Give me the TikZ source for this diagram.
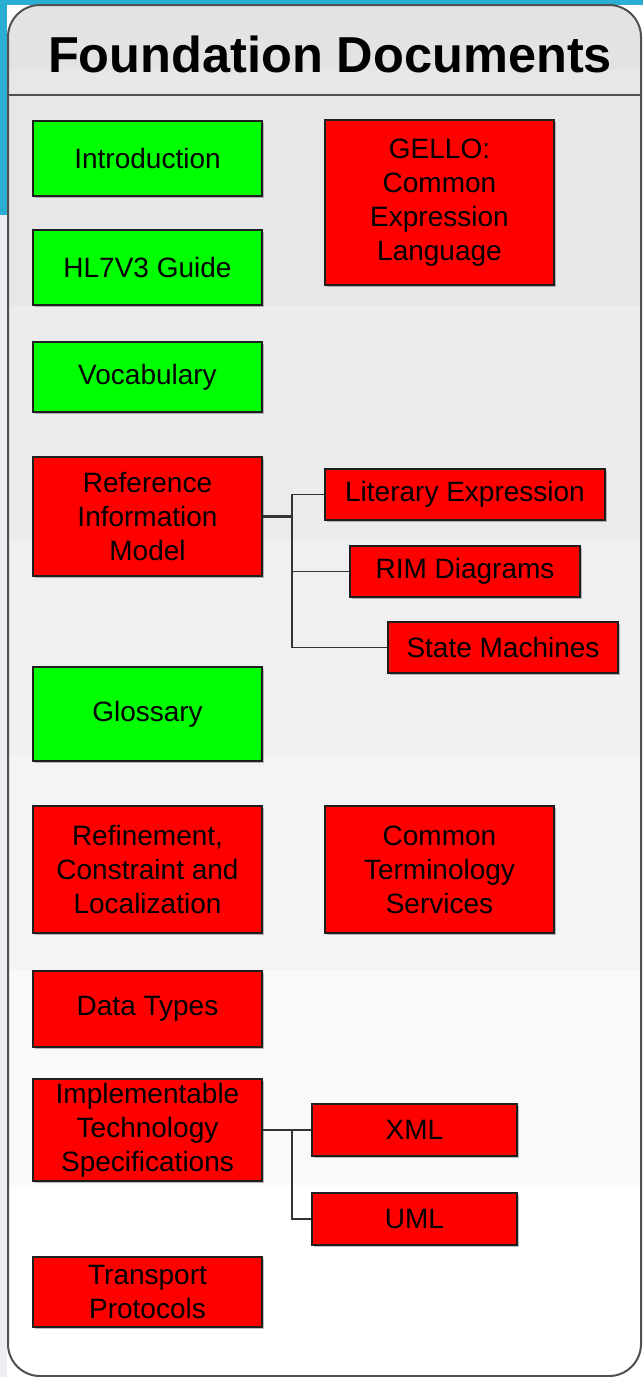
\documentclass[tikz,border=0pt]{standalone}
\usepackage{fontspec}
\setmainfont{Liberation Sans}
\usetikzlibrary{shadows}

\definecolor{frameblue}{HTML}{2BAED3}
\definecolor{sidegray}{HTML}{EBEDF0}
\definecolor{framegray}{HTML}{505050}
\definecolor{boxline}{HTML}{1E1E1E}
\definecolor{okgreen}{HTML}{00FF00}
\definecolor{todored}{HTML}{FF0000}
\definecolor{linkgray}{HTML}{333333}
\definecolor{bandA}{HTML}{E3E3E3}
\definecolor{bandB}{HTML}{E7E7E7}
\definecolor{bandC}{HTML}{ECECEC}
\definecolor{bandD}{HTML}{F0F0F0}
\definecolor{bandE}{HTML}{F4F4F4}
\definecolor{bandF}{HTML}{F9F9F9}

\begin{document}
\begin{tikzpicture}[x=1pt,y=-1pt,
  doc/.style={draw=boxline, line width=1.3pt, align=center, inner sep=0pt,
    font=\fontsize{28}{34}\selectfont, text=black, minimum width=229pt,
    drop shadow={shadow xshift=1.5pt, shadow yshift=-1.5pt, fill=black, opacity=0.25}},
  ok/.style={doc, fill=okgreen},
  todo/.style={doc, fill=todored},
  link/.style={draw=linkgray, line width=1.4pt},
  trunk/.style={draw=linkgray, line width=2.2pt},
  frame/.style={draw=framegray, line width=2pt}]

\useasboundingbox (0,0) rectangle (643,1377);

% page background and the blue frame strips
\fill[white] (0,0) rectangle (643,1377);
\fill[sidegray] (0,215) rectangle (7,1377);
\fill[frameblue] (0,0) rectangle (643,5);
\fill[frameblue] (0,0) rectangle (7,215);

% container with banded fill
\begin{scope}
  \clip[rounded corners=32pt] (8,5) rectangle (641,1376);
  \fill[bandA] (0,0) rectangle (643,70);
  \fill[bandB] (0,70) rectangle (643,306);
  \fill[bandC] (0,306) rectangle (643,540);
  \fill[bandD] (0,540) rectangle (643,755);
  \fill[bandE] (0,755) rectangle (643,970);
  \fill[bandF] (0,970) rectangle (643,1185);
  \fill[white] (0,1185) rectangle (643,1377);
\end{scope}
\draw[frame, rounded corners=32pt] (8,5) rectangle (641,1376);
\draw[frame] (8,95) -- (641,95);

\node[anchor=base, inner sep=0pt, font=\bfseries\fontsize{50.5}{60}\selectfont] (title) at (330,72) {Foundation Documents};

% left column
\node[ok, minimum height=75pt] (intro) at (147.5,158.5) {Introduction};
\node[ok, minimum height=75pt] (guide) at (147.5,267.5) {HL7V3 Guide};
\node[ok, minimum height=70pt] (vocab) at (147.5,377) {Vocabulary};
\node[todo, minimum height=119pt] (rim) at (147.5,516.5) {Reference\\Information\\Model};
\node[ok, minimum height=94pt] (gloss) at (147.5,714) {Glossary};
\node[todo, minimum height=127pt] (refine) at (147.5,869.5) {Refinement,\\Constraint and\\Localization};
\node[todo, minimum height=76pt] (dtypes) at (147.5,1009) {Data Types};
\node[todo, minimum height=102pt] (its) at (147.5,1130) {Implementable\\Technology\\Specifications};
\node[todo, minimum height=70pt] (transport) at (147.5,1292) {Transport\\Protocols};

% right column
\node[todo, minimum height=165pt] (gello) at (439.5,202.5) {GELLO:\\Common\\Expression\\Language};
\node[todo, minimum height=127pt] (cts) at (439.5,869.5) {Common\\Terminology\\Services};

% RIM sub-documents
\node[todo, minimum width=280pt, minimum height=51pt] (literary) at (465,494.5) {Literary Expression};
\node[todo, minimum width=230pt, minimum height=51pt] (rimdiag) at (465,571.5) {RIM Diagrams};
\node[todo, minimum width=230pt, minimum height=51pt] (statem) at (503,647.5) {State Machines};

% ITS sub-documents
\node[todo, minimum width=205pt, minimum height=52pt] (xml) at (414.5,1130) {XML};
\node[todo, minimum width=205pt, minimum height=52pt] (uml) at (414.5,1219) {UML};

% connectors
\coordinate (rimjoin) at (292,516.5);
\draw[trunk] (rim.east) -- (rimjoin);
\draw[link] (literary.west) -| (rimjoin);
\draw[link] (rimdiag.west) -| (rimjoin);
\draw[link] (statem.west) -| (rimjoin);

\coordinate (itsjoin) at (292,1130);
\draw[link] (its.east) -- (xml.west);
\draw[link] (uml.west) -| (itsjoin);

\end{tikzpicture}
\end{document}
